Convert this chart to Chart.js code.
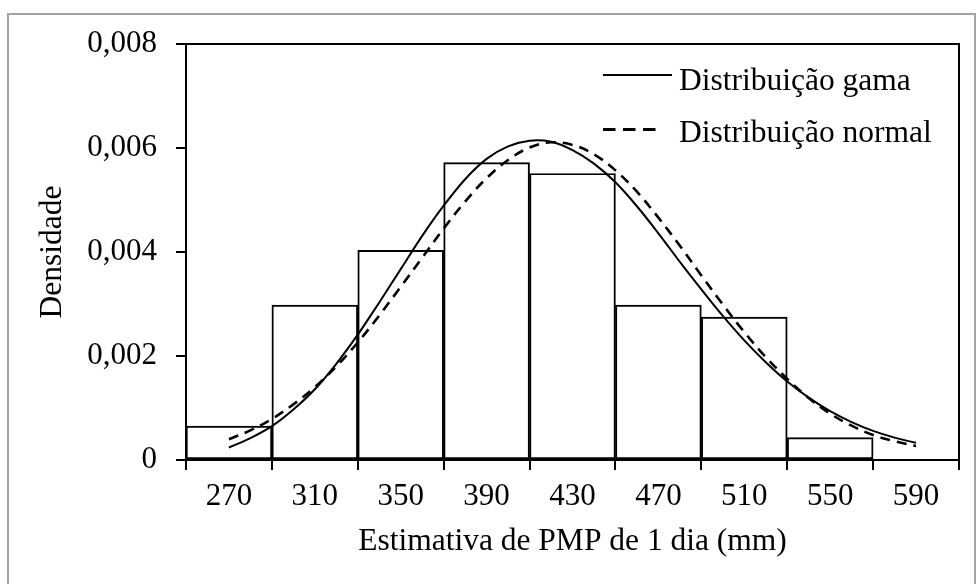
<!DOCTYPE html>
<html>
<head>
<meta charset="utf-8">
<script src="https://cdn.jsdelivr.net/npm/chart.js@4/dist/chart.umd.min.js"></script>
<style>
  html, body { margin: 0; padding: 0; background: #fff; overflow: hidden; }
  #frame { position: absolute; left: 7px; top: 13px; width: 965px; height: 620px; border: 2px solid #a3a3a3; }
  #c { position: absolute; left: 0; top: 0; }
  #legend { position: absolute; left: 0; top: 0; pointer-events: none; }
</style>
</head>
<body>
<div id="frame"></div>
<canvas id="c" width="978" height="584"></canvas>
<svg id="legend" width="978" height="584"></svg>
<script>
// ---- data ----
const categories = ['270', '310', '350', '390', '430', '470', '510', '550', '590'];
const barValues = [0.00065, 0.00298, 0.00403, 0.00572, 0.00551, 0.00298, 0.00275, 0.00043, 0];

const curveX = [270, 280, 290, 300, 310, 320, 330, 340, 350, 360, 370, 380, 390, 400, 410, 420, 430,
                440, 450, 460, 470, 480, 490, 500, 510, 520, 530, 540, 550, 560, 570, 580, 590];
const gamaY = [0.00024, 0.00042, 0.00065, 0.00097, 0.00136, 0.00185, 0.00241, 0.00303, 0.00367, 0.00431,
               0.00489, 0.00540, 0.00579, 0.00603, 0.00614, 0.00612, 0.00596, 0.00570, 0.00534, 0.00488,
               0.00436, 0.00381, 0.00328, 0.00277, 0.00230, 0.00188, 0.00151, 0.00120, 0.00094, 0.00073,
               0.00056, 0.00043, 0.00033];
const normalY = [0.00040, 0.00057, 0.00079, 0.00107, 0.00140, 0.00180, 0.00226, 0.00278, 0.00333, 0.00389,
                 0.00445, 0.00497, 0.00542, 0.00577, 0.00601, 0.00611, 0.00606, 0.00588, 0.00557, 0.00516,
                 0.00466, 0.00412, 0.00355, 0.00299, 0.00246, 0.00198, 0.00156, 0.00119, 0.00089, 0.00066,
                 0.00048, 0.00036, 0.00027];

const yTickLabels = ['0', '0,002', '0,004', '0,006', '0,008'];
const legendLabels = ['Distribuição gama', 'Distribuição normal'];
const xTitle = 'Estimativa de PMP de 1 dia (mm)';
const yTitle = 'Densidade';

// ---- chart ----
const FONT = "'Liberation Serif', 'Times New Roman', serif";
Chart.defaults.font.family = FONT;
Chart.defaults.font.size = 31;
Chart.defaults.color = '#000';

const plotBox = {
  id: 'plotBox',
  afterDraw(chart) {
    const { ctx, chartArea: a } = chart;
    ctx.save();
    ctx.strokeStyle = '#000';
    ctx.lineWidth = 2;
    ctx.beginPath();
    ctx.moveTo(a.left, a.top);
    ctx.lineTo(a.right, a.top);
    ctx.lineTo(a.right, a.bottom);
    ctx.stroke();
    ctx.restore();
  }
};

new Chart(document.getElementById('c'), {
  type: 'bar',
  data: {
    labels: categories,
    datasets: [
      {
        type: 'line',
        label: legendLabels[0],
        data: curveX.map((x, i) => ({ x: x, y: gamaY[i] })),
        xAxisID: 'xLin',
        borderColor: '#000',
        borderWidth: 2,
        pointRadius: 0,
        tension: 0.35,
        fill: false
      },
      {
        type: 'line',
        label: legendLabels[1],
        data: curveX.map((x, i) => ({ x: x, y: normalY[i] })),
        xAxisID: 'xLin',
        borderColor: '#000',
        borderWidth: 2.6,
        borderDash: [10, 7],
        pointRadius: 0,
        tension: 0.35,
        fill: false
      },
      {
        type: 'bar',
        label: 'Histograma',
        data: barValues,
        xAxisID: 'x',
        grouped: false,
        backgroundColor: 'rgba(0,0,0,0)',
        borderColor: '#000',
        borderWidth: 1.3,
        borderSkipped: false,
        barPercentage: 1,
        categoryPercentage: 1
      }
    ]
  },
  options: {
    responsive: false,
    devicePixelRatio: 1,
    animation: false,
    layout: { padding: { left: 0, right: 19, top: 44, bottom: 0 } },
    plugins: {
      legend: { display: false },
      tooltip: { enabled: false }
    },
    scales: {
      x: {
        type: 'category',
        position: 'bottom',
        offset: true,
        afterFit(s) { s.height = 124; },
        grid: { offset: true, drawOnChartArea: false, drawTicks: true, tickLength: 10, color: '#000', lineWidth: 2 },
        border: { display: true, color: '#000', width: 2 },
        ticks: { autoSkip: false, maxRotation: 0, minRotation: 0, padding: 8, font: { size: 31 } },
        title: { display: true, text: xTitle, font: { size: 31.5 }, padding: { top: 0, bottom: 23 } }
      },
      xLin: {
        type: 'linear',
        position: 'bottom',
        display: false,
        offset: false,
        grid: { offset: false },
        bounds: 'ticks',
        min: 250,
        max: 610
      },
      y: {
        type: 'linear',
        position: 'left',
        min: 0,
        max: 0.008,
        afterFit(s) { s.width = 186; },
        grid: { drawOnChartArea: false, drawTicks: true, tickLength: 10, color: '#000', lineWidth: 2 },
        border: { display: true, color: '#000', width: 2 },
        ticks: {
          stepSize: 0.002,
          padding: 19,
          font: { size: 31 },
          callback: (v, i) => yTickLabels[i]
        },
        title: { display: true, text: yTitle, font: { size: 31.5 }, padding: { top: 34, bottom: 0 } }
      }
    }
  },
  plugins: [plotBox]
});

// ---- legend (inside the plot, top right) ----
const svgNS = 'http://www.w3.org/2000/svg';
const svg = document.getElementById('legend');
const legendRows = [
  { y: 75, base: 90, dash: null, width: 2, x2: 672 },
  { y: 129.5, base: 142, dash: '12.5 7.5', width: 3, x2: 656 }
];
legendRows.forEach((r, i) => {
  const ln = document.createElementNS(svgNS, 'line');
  ln.setAttribute('x1', 603); ln.setAttribute('x2', r.x2);
  ln.setAttribute('y1', r.y); ln.setAttribute('y2', r.y);
  ln.setAttribute('stroke', '#000');
  ln.setAttribute('stroke-width', r.width);
  if (r.dash) ln.setAttribute('stroke-dasharray', r.dash);
  svg.appendChild(ln);
  const t = document.createElementNS(svgNS, 'text');
  t.setAttribute('x', 679); t.setAttribute('y', r.base);
  t.setAttribute('font-family', FONT);
  t.setAttribute('font-size', '31.5');
  t.setAttribute('fill', '#000');
  t.textContent = legendLabels[i];
  svg.appendChild(t);
});
</script>
</body>
</html>
